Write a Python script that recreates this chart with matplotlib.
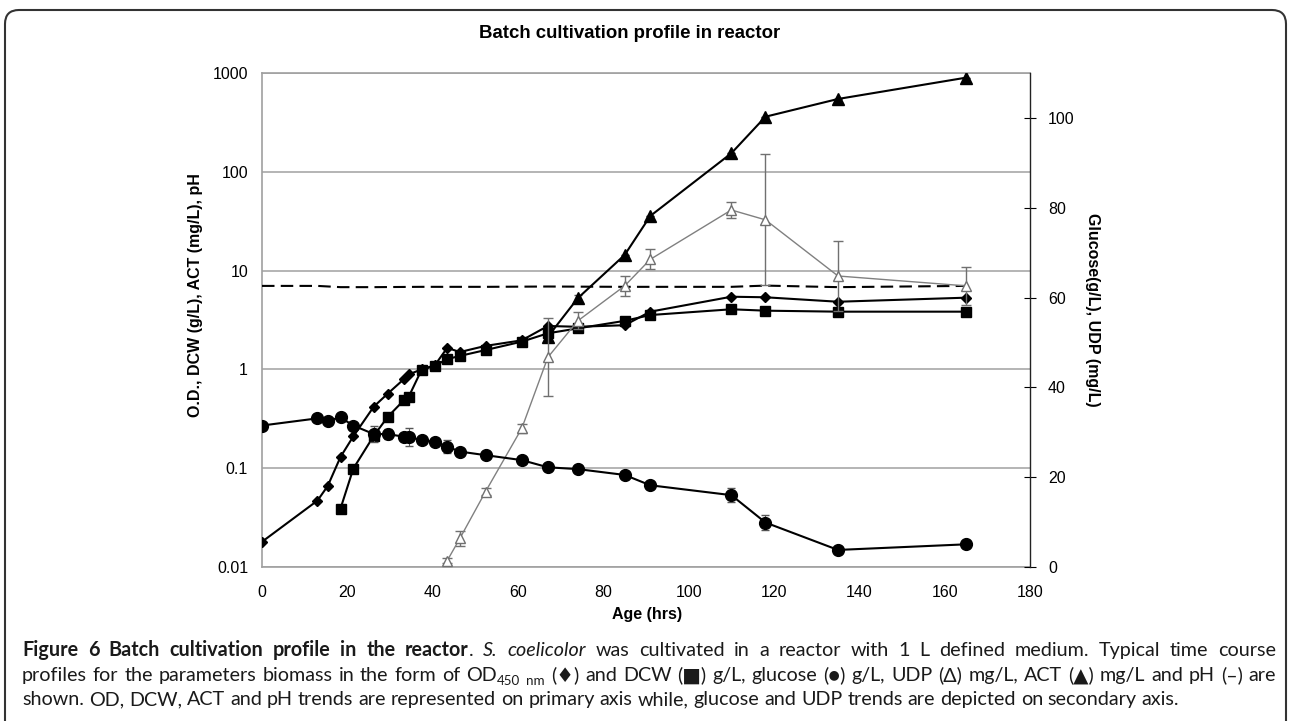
import matplotlib
matplotlib.use("Agg")
import matplotlib.pyplot as plt
from matplotlib.patches import FancyBboxPatch
from matplotlib.ticker import FuncFormatter, NullLocator

# -------------------------------
# DATA
# -------------------------------

hours = [0, 13, 15.4, 18.4, 21.4, 26.2, 29.5, 33.3, 34.4, 37.4, 40.5, 43.4,
         46.4, 52.4, 60.9, 67, 74, 85, 91, 110, 118, 135, 165]

od = [0.018, 0.047, 0.066, 0.13, 0.21, 0.42, 0.57, 0.80, 0.89, 1.0, 1.1, 1.65,
      1.5, 1.73, 1.97, 2.75, 2.7, 2.8, 3.84, 5.44, 5.37, 4.84, 5.32]

glucose = [31.5, 33.1, 32.6, 33.3, 31.5, 29.6, 29.6, 29.0, 28.9, 28.3, 27.8, 26.8,
           25.7, 24.9, 23.8, 22.2, 21.8, 20.5, 18.2, 16.0, 9.9, 3.8, 5.05]
glucose_err = [0, 0, 0, 0, 0, 1.7, 1.2, 0, 2.0, 0, 0, 1.5,
               0, 0, 0.7, 0, 0, 0, 0, 1.5, 1.6, 0, 0]

dcw_hours = [18.4, 21.4, 26.2, 29.5, 33.3, 34.4, 37.4, 40.5, 43.4, 46.4, 52.4,
             60.9, 67, 74, 85, 91, 110, 118, 135, 165]
dcw = [0.039, 0.099, 0.213, 0.332, 0.49, 0.53, 0.99, 1.09, 1.27, 1.37, 1.57,
       1.91, 2.32, 2.6, 3.1, 3.55, 4.06, 3.93, 3.84, 3.84]
dcw_err = [0, 0, 0, 0, 0, 0, 0, 0, 0, 0, 0.15, 0.12, 0, 0, 0, 0, 0, 0, 0, 0]

udp_hours = [43.4, 46.4, 52.4, 60.9, 67, 74, 85, 91, 110, 118, 135, 165]
udp = [1.4, 6.4, 16.8, 30.9, 46.7, 54.8, 62.6, 68.5, 79.5, 77.3, 64.8, 62.6]
udp_err = [0.6, 1.7, 0.8, 1.0, 8.7, 1.9, 2.2, 2.2, 1.7, 14.6, 7.8, 4.3]

act_hours = [67, 74, 85, 91, 110, 118, 135, 165]
act = [2.14, 5.25, 14.4, 35.7, 154, 361, 546, 897]
act_err = [0, 0.45, 0, 0, 0, 0, 0, 0]

ph_hours = [0, 13, 18.4, 26.2, 37.4, 52.4, 67, 85, 110, 118, 135, 165]
ph = [7.0, 7.0, 6.8, 6.8, 6.85, 6.85, 6.9, 6.85, 6.85, 7.05, 6.8, 7.0]

x_ticks = list(range(0, 181, 20))
left_ticks = [0.01, 0.1, 1, 10, 100, 1000]
right_ticks = [0, 20, 40, 60, 80, 100]

# -------------------------------
# FIGURE
# -------------------------------

W, H = 1289, 721
plt.rcParams["font.family"] = ["Liberation Sans", "DejaVu Sans"]
fig = plt.figure(figsize=(W / 100, H / 100), dpi=100)

ax = fig.add_axes([262 / W, 1 - 567 / H, (1030 - 262) / W, (567 - 73) / H])
ax2 = ax.twinx()

ax.set_yscale("log")
ax.set_ylim(0.01, 1000)
ax.set_xlim(0, 180)
ax.set_xticks(x_ticks)
ax.set_yticks(left_ticks)
ax.yaxis.set_minor_locator(NullLocator())
ax.yaxis.set_major_formatter(FuncFormatter(lambda v, p: f"{v:g}"))
ax.grid(axis="y", color="#a8a8a8", lw=1.2)
ax.set_axisbelow(True)
ax.tick_params(axis="both", length=0, labelsize=11.5)
ax.tick_params(axis="y", pad=10)
ax.tick_params(axis="x", pad=13)
for s in ["left", "bottom", "top"]:
    ax.spines[s].set_color("#a0a0a0")
    ax.spines[s].set_linewidth(1.2)
ax.spines["right"].set_visible(False)

ax2.set_ylim(0, 110)
ax2.set_yticks(right_ticks)
ax2.tick_params(axis="y", direction="inout", length=8, width=0.8, labelsize=11.5, pad=9)
ax2.spines["right"].set_color("#222222")
ax2.spines["right"].set_linewidth(1.0)
for s in ["left", "bottom", "top"]:
    ax2.spines[s].set_visible(False)

# primary axis series
ax.plot(ph_hours, ph, color="black", lw=1.5, ls=(0, (6, 3)), zorder=3)
ax.errorbar(hours, od, color="black", lw=1.5, marker="D", ms=5.5, zorder=4)
ax.errorbar(dcw_hours, dcw, yerr=dcw_err, color="black", lw=1.5, marker="s", ms=7.5,
            ecolor="#555555", elinewidth=0.8, capsize=3, zorder=4)
ax.errorbar(act_hours, act, yerr=act_err, color="black", lw=1.5, marker="^", ms=9,
            ecolor="#555555", elinewidth=0.8, capsize=3, zorder=4)

# secondary axis series
ax2.errorbar(udp_hours, udp, yerr=udp_err, color="#808080", lw=1.0, marker="^", ms=7.5,
             mfc="white", mec="#707070", ecolor="#707070", elinewidth=1.0, capsize=3.5)
ax2.errorbar(hours, glucose, yerr=glucose_err, color="black", lw=1.5, marker="o", ms=8.5,
             ecolor="#555555", elinewidth=0.8, capsize=3)

ax.set_ylabel("O.D., DCW (g/L), ACT (mg/L), pH", fontsize=11.5, fontweight="bold",
              va="center", ha="center")
ax.yaxis.set_label_coords(-0.087, 0.55)
ax2.set_ylabel("Glucose(g/L), UDP (mg/L)", fontsize=11.5, fontweight="bold",
               rotation=270, va="center", ha="center")
ax2.yaxis.set_label_coords(1.082, 0.52)
ax.set_xlabel("Age (hrs)", fontsize=11.5, fontweight="bold", va="center")
ax.xaxis.set_label_coords(0.501, -0.097)

fig.text(629.5 / W, 1 - 33.5 / H, "Batch cultivation profile in reactor",
         fontsize=13.4, fontweight="bold", ha="center", va="center")

# outer frame
frame = FancyBboxPatch((5, -30), 1281, 741, boxstyle="round,pad=0,rounding_size=14",
                       transform=None, fill=False, ec="#333333", lw=1.5)
fig.add_artist(frame)

# -------------------------------
# CAPTION
# -------------------------------

renderer = fig.canvas.get_renderer()
cap_font = ["Lato", "DejaVu Sans"]


def measure(s, st):
    st = {k: v for k, v in st.items() if k != "dy"}
    t = fig.text(0, 0, s, **st)
    w = t.get_window_extent(renderer).width
    t.remove()
    return w


def tokenize(runs):
    words = [[]]
    for text, st in runs:
        parts = text.split(" ")
        for i, p in enumerate(parts):
            if i > 0:
                words.append([])
            if p:
                words[-1].append((p, st))
    return [w for w in words if w]


def place_line(runs, base_y, x0, x1, justify, space_w):
    words = tokenize(runs)
    widths = [sum(measure(s, st) for s, st in w) for w in words]
    if justify:
        gap = (x1 - x0 - sum(widths)) / (len(words) - 1)
    else:
        gap = space_w
    x = x0
    for w, wd in zip(words, widths):
        xx = x
        for s, st in w:
            kw = {k: v for k, v in st.items() if k != "dy"}
            fig.text(xx / W, 1 - (base_y + st.get("dy", 0)) / H, s, va="baseline",
                     ha="left", **kw)
            xx += measure(s, st)
        x += wd + gap


line3_text = ("shown. OD, DCW, ACT and pH trends are represented on primary axis while, "
              "glucose and UDP trends are depicted on secondary axis.")
probe = measure(line3_text, dict(family=cap_font, size=12))
fs = 12 * 1153 / probe

R = dict(family=cap_font, size=fs, color="#1a1a1a")
B = dict(R, weight="bold")
I = dict(R, style="italic")
SUB = dict(R, size=fs * 0.68, dy=4)
space_w = measure("a b", R) - measure("ab", R)

line1 = [("Figure 6 Batch cultivation profile in the reactor", B), (". ", R),
         ("S. coelicolor", I),
         (" was cultivated in a reactor with 1 L defined medium. Typical time course", R)]
line2 = [("profiles for the parameters biomass in the form of OD", R), ("450 nm", SUB),
         (" (\u2666) and DCW (\u25a0) g/L, glucose (\u25cf) g/L, UDP (\u0394) mg/L, "
          "ACT (\u25b2) mg/L and pH (\u2013) are", R)]
line3 = [(line3_text, R)]

place_line(line1, 656, 22, 1276, True, space_w)
place_line(line2, 681, 22, 1276, True, space_w)
place_line(line3, 705, 22, 1276, False, space_w)

fig.savefig("out.png", dpi=100)
